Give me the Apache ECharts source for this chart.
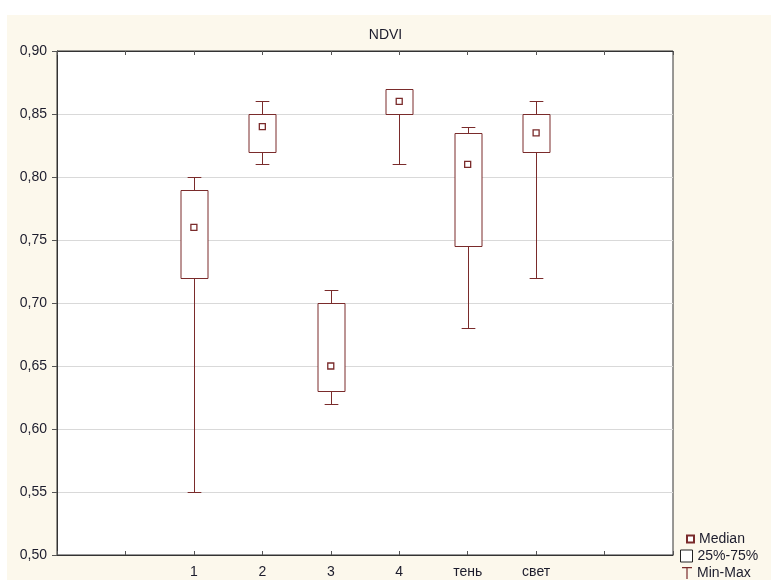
<!DOCTYPE html>
<html><head><meta charset="utf-8">
<script src="https://cdn.jsdelivr.net/npm/echarts@6/dist/echarts.min.js"></script>
<style>
html,body{margin:0;padding:0;background:#fff;}
#bg{position:absolute;left:7px;top:15px;width:764px;height:565px;background:#fcf8ec;}
#c{position:absolute;left:0;top:0;width:771px;height:580px;}
</style></head>
<body><div id="bg"></div><div id="c"></div>
<script>
// Data
const categories = ['1', '2', '3', '4', 'тень', 'свет'];
const catPositions = [2, 3, 4, 5, 6, 7];
const minVals    = [0.55, 0.81, 0.62, 0.81, 0.68, 0.72];
const q1Vals     = [0.72, 0.82, 0.63, 0.85, 0.745, 0.82];
const medianVals = [0.76, 0.84, 0.65, 0.86, 0.81, 0.835];
const q3Vals     = [0.79, 0.85, 0.70, 0.87, 0.835, 0.85];
const maxVals    = [0.80, 0.86, 0.71, 0.87, 0.84, 0.86];
const yTicks = [0.50, 0.55, 0.60, 0.65, 0.70, 0.75, 0.80, 0.85, 0.90];

const C = '#7a2b2b';
const font = 'Arial, "Liberation Sans", sans-serif';
const FS = 14;
const TC = '#1c1c2c';

const boxData = catPositions.map((p, i) => [p, minVals[i], q1Vals[i], medianVals[i], q3Vals[i], maxVals[i]]);
const medData = catPositions.map((p, i) => [p, medianVals[i]]);
const labelMap = {};
catPositions.forEach((p, i) => labelMap[p] = categories[i]);

function renderBox(params, api) {
  const x = api.value(0);
  const lo = api.coord([x, api.value(2)]);
  const hi = api.coord([x, api.value(4)]);
  const w = api.size([0.4, 0])[0];
  const cx = Math.round(lo[0]) + 0.5;
  const y1 = Math.round(hi[1]) + 0.5, y2 = Math.round(lo[1]) + 0.5;
  return {type: 'rect', shape: {x: Math.round(cx - w / 2), y: y1, width: Math.round(w), height: y2 - y1},
          style: {fill: '#fff', stroke: C, lineWidth: 1}};
}
function renderWhisker(params, api) {
  const x = api.value(0);
  const pMin = api.coord([x, api.value(1)]);
  const pQ1 = api.coord([x, api.value(2)]);
  const pQ3 = api.coord([x, api.value(4)]);
  const pMax = api.coord([x, api.value(5)]);
  const cw = api.size([0.2, 0])[0] / 2;
  const cx = Math.round(pMin[0]) + 0.5;
  const r = v => Math.round(v) + 0.5;
  const st = {stroke: C, lineWidth: 1, fill: null};
  const ch = [];
  if (pMax[1] < pQ3[1] - 0.5) {
    ch.push({type: 'line', shape: {x1: cx, y1: r(pMax[1]), x2: cx, y2: r(pQ3[1])}, style: st});
    ch.push({type: 'line', shape: {x1: cx - cw, y1: r(pMax[1]), x2: cx + cw, y2: r(pMax[1])}, style: st});
  }
  if (pMin[1] > pQ1[1] + 0.5) {
    ch.push({type: 'line', shape: {x1: cx, y1: r(pQ1[1]), x2: cx, y2: r(pMin[1])}, style: st});
    ch.push({type: 'line', shape: {x1: cx - cw, y1: r(pMin[1]), x2: cx + cw, y2: r(pMin[1])}, style: st});
  }
  return {type: 'group', children: ch};
}

const chart = echarts.init(document.getElementById('c'), null, {renderer: 'canvas'});
const legText = {fontFamily: font, fontSize: FS, color: TC};
chart.setOption({
  backgroundColor: 'transparent',
  animation: false,
  textStyle: {fontFamily: font},
  title: {text: 'NDVI', left: 'center', top: 23, textStyle: {fontFamily: font, fontSize: FS, fontWeight: 'normal', color: TC}},
  grid: {left: 57, right: 98, top: 51, bottom: 25, show: true, backgroundColor: '#fff', borderColor: '#333', borderWidth: 1},
  legend: [
    {data: ['Median'], orient: 'vertical', left: 686, top: 532, padding: 0, itemWidth: 7, itemHeight: 7, textStyle: legText},
    {data: [{name: '25%-75%', icon: 'rect', itemStyle: {color: '#fff', borderColor: '#222', borderWidth: 1}}], orient: 'vertical', left: 680, top: 549, padding: 0, itemWidth: 12, itemHeight: 12, textStyle: legText},
    {data: [{name: 'Min-Max', icon: 'path://M0,0H10V1.2H5.6V12H4.4V1.2H0Z'}], orient: 'vertical', left: 682, top: 566, padding: 0, itemWidth: 10, itemHeight: 12, textStyle: legText}
  ],
  xAxis: [{
    type: 'value', min: 0, max: 9, interval: 1, position: 'bottom',
    axisLine: {show: true, lineStyle: {color: '#333', width: 1}},
    axisTick: {show: true, inside: true, length: 4, lineStyle: {color: '#555'}},
    axisLabel: {formatter: v => labelMap[v] || '', margin: 10, fontFamily: font, fontSize: FS, color: TC},
    splitLine: {show: false}
  }, {
    type: 'value', min: 0, max: 9, interval: 1, position: 'top',
    axisLine: {show: true, lineStyle: {color: '#333', width: 1}},
    axisTick: {show: true, inside: true, length: 4, lineStyle: {color: '#555'}},
    axisLabel: {show: false}, splitLine: {show: false}
  }],
  yAxis: {
    type: 'value', min: yTicks[0], max: yTicks[yTicks.length - 1], interval: 0.05,
    axisLine: {show: true, lineStyle: {color: '#333', width: 1}},
    axisTick: {show: true, length: 5, lineStyle: {color: '#555'}},
    axisLabel: {formatter: v => v.toFixed(2).replace('.', ','), margin: 10, fontFamily: font, fontSize: FS, color: TC},
    splitLine: {show: true, lineStyle: {color: '#d9d9d9', width: 1}}
  },
  series: [
    {name: 'Min-Max', type: 'custom', renderItem: renderWhisker, data: boxData, itemStyle: {color: C}, z: 2},
    {name: '25%-75%', type: 'custom', renderItem: renderBox, data: boxData, itemStyle: {color: C}, z: 3},
    {name: 'Median', type: 'scatter', data: medData, symbol: 'rect', symbolSize: 6,
     itemStyle: {color: '#fff', borderColor: C, borderWidth: 1.3, opacity: 1}, z: 5}
  ]
});
</script></body></html>
